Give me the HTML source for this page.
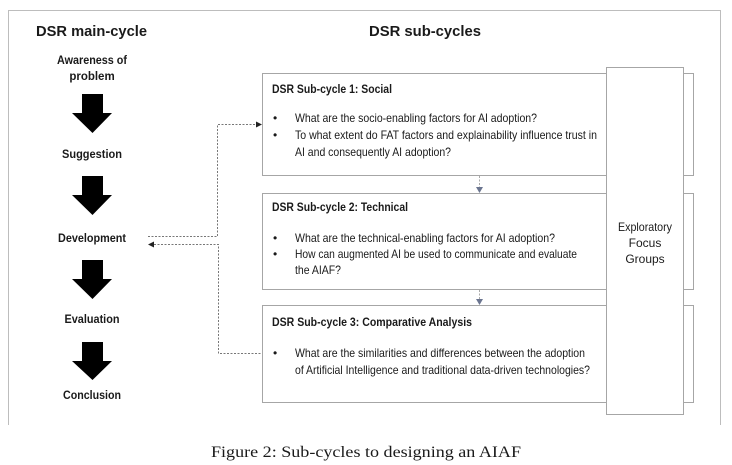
<!DOCTYPE html>
<html><head><meta charset="utf-8"><style>
html,body{margin:0;padding:0;background:#fff;}
svg{display:block}
text{font-family:"Liberation Sans",Arial,sans-serif;fill:#1a1a1a}
.t{font-size:12px}
.b{font-weight:bold}
</style></head><body>
<svg width="732" height="465" viewBox="0 0 732 465" xmlns="http://www.w3.org/2000/svg">
<polyline points="8.5,425 8.5,10.5 720.5,10.5 720.5,425" fill="none" stroke="#bdbdbd" stroke-width="1"/>
<text x="36" y="36" font-size="15" class="b" textLength="111" lengthAdjust="spacingAndGlyphs">DSR main-cycle</text>
<text x="369" y="36" font-size="15" class="b" textLength="112" lengthAdjust="spacingAndGlyphs">DSR sub-cycles</text>

<g font-size="11.5" class="b" text-anchor="middle">
<text x="92" y="64" textLength="70" lengthAdjust="spacingAndGlyphs">Awareness of</text>
<text x="92" y="80">problem</text>
<text x="92" y="158" textLength="60" lengthAdjust="spacingAndGlyphs">Suggestion</text>
<text x="92" y="242" textLength="68" lengthAdjust="spacingAndGlyphs">Development</text>
<text x="92" y="323" textLength="55" lengthAdjust="spacingAndGlyphs">Evaluation</text>
<text x="92" y="399" textLength="58" lengthAdjust="spacingAndGlyphs">Conclusion</text>
</g>
<g fill="#000">
<polygon points="82,94 103,94 103,113 112,113 92.5,133 72,113 82,113"/>
<polygon points="82,176 103,176 103,195 112,195 92.5,215 72,195 82,195"/>
<polygon points="82,260 103,260 103,279 112,279 92.5,299 72,279 82,279"/>
<polygon points="82,342 103,342 103,361 112,361 92.5,380 72,361 82,361"/>
</g>

<g fill="none" stroke="#777" stroke-width="1" stroke-dasharray="2,1.5">
<polyline points="148,236.5 217.5,236.5 217.5,124.5 257,124.5"/>
<polyline points="154,244.5 218.5,244.5 218.5,353.5 262,353.5"/>
<line x1="479.5" y1="176" x2="479.5" y2="188" stroke="#aaa"/>
<line x1="479.5" y1="290" x2="479.5" y2="300" stroke="#aaa"/>
</g>
<polygon points="262,124.5 256,121.5 256,127.5" fill="#222"/>
<polygon points="148,244.5 154,241.5 154,247.5" fill="#222"/>
<polygon points="476,187 483,187 479.5,193" fill="#6b7590"/>
<polygon points="476,299 483,299 479.5,305" fill="#6b7590"/>

<g fill="#fff" stroke="#a6a6a6" stroke-width="1">
<rect x="262.5" y="73.5" width="431" height="102"/>
<rect x="262.5" y="193.5" width="431" height="96"/>
<rect x="262.5" y="305.5" width="431" height="97"/>
<rect x="606.5" y="67.5" width="77" height="347"/>
</g>

<g class="t">
<text x="272" y="93" class="b" textLength="120" lengthAdjust="spacingAndGlyphs">DSR Sub-cycle 1: Social</text>
<text x="273" y="122">•</text><text x="295" y="122" textLength="242" lengthAdjust="spacingAndGlyphs">What are the socio-enabling factors for AI adoption?</text>
<text x="273" y="139">•</text><text x="295" y="139" textLength="302" lengthAdjust="spacingAndGlyphs">To what extent do FAT factors and explainability influence trust in</text>
<text x="295" y="156" textLength="156" lengthAdjust="spacingAndGlyphs">AI and consequently AI adoption?</text>

<text x="272" y="211" class="b" textLength="136" lengthAdjust="spacingAndGlyphs">DSR Sub-cycle 2: Technical</text>
<text x="273" y="242">•</text><text x="295" y="242" textLength="260" lengthAdjust="spacingAndGlyphs">What are the technical-enabling factors for AI adoption?</text>
<text x="273" y="258">•</text><text x="295" y="258" textLength="282" lengthAdjust="spacingAndGlyphs">How can augmented AI be used to communicate and evaluate</text>
<text x="295" y="274" textLength="46" lengthAdjust="spacingAndGlyphs">the AIAF?</text>

<text x="272" y="326" class="b" textLength="200" lengthAdjust="spacingAndGlyphs">DSR Sub-cycle 3: Comparative Analysis</text>
<text x="273" y="357">•</text><text x="295" y="357" textLength="290" lengthAdjust="spacingAndGlyphs">What are the similarities and differences between the adoption</text>
<text x="295" y="374" textLength="295" lengthAdjust="spacingAndGlyphs">of Artificial Intelligence and traditional data-driven technologies?</text>
</g>
<g class="t" text-anchor="middle">
<text x="645" y="231" textLength="54" lengthAdjust="spacingAndGlyphs">Exploratory</text>
<text x="645" y="247">Focus</text>
<text x="645" y="263">Groups</text>
</g>

<text x="366" y="457" text-anchor="middle" font-size="16" style="font-family:'Liberation Serif',serif" textLength="310" lengthAdjust="spacingAndGlyphs">Figure 2: Sub-cycles to designing an AIAF</text>
</svg>
</body></html>
